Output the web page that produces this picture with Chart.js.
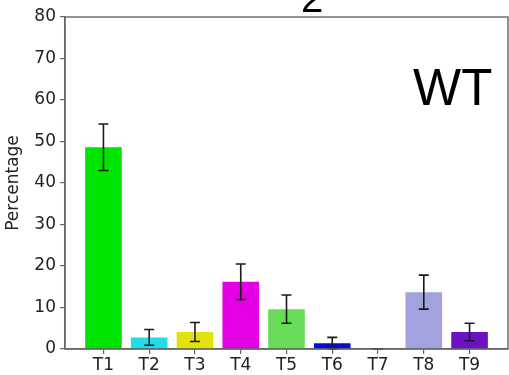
<!DOCTYPE html>
<html>
<head>
<meta charset="utf-8">
<script src="https://cdn.jsdelivr.net/npm/chart.js@4/dist/chart.umd.min.js"></script>
<style>
  html, body { margin: 0; padding: 0; background: #fff; }
  canvas { display: block; }
</style>
</head>
<body>
<canvas id="grafico" width="509" height="375"></canvas>
<script>
// dados
const categorias = ["T1", "T2", "T3", "T4", "T5", "T6", "T7", "T8", "T9"];
const valores    = [48.6, 2.8, 4.1, 16.2, 9.6, 1.4, 0, 13.7, 4.1];
const erros      = [5.6, 1.9, 2.3, 4.3, 3.4, 1.4, 0, 4.1, 2.1];
const cores      = ["#00e400", "#22dde6", "#e2e20c", "#e400e4", "#68dc58",
                    "#0a0ad8", "#888888", "#a2a2de", "#6a12c4"];
const ticksY     = [0, 10, 20, 30, 40, 50, 60, 70, 80];

const corEixo = "#666666";
const corTexto = "#222222";

// barras de erro + moldura + textos
const extras = {
  id: "extras",
  afterDatasetsDraw(chart) {
    const { ctx, scales: { x, y } } = chart;
    ctx.save();
    ctx.strokeStyle = "#1a1a1a";
    ctx.lineWidth = 1.6;
    valores.forEach((v, i) => {
      const px = x.getPixelForValue(i);
      const yTop = y.getPixelForValue(v + erros[i]);
      const yBot = y.getPixelForValue(v - erros[i]);
      ctx.beginPath();
      ctx.moveTo(px, yTop); ctx.lineTo(px, yBot);
      ctx.moveTo(px - 5, yTop); ctx.lineTo(px + 5, yTop);
      ctx.moveTo(px - 5, yBot); ctx.lineTo(px + 5, yBot);
      ctx.stroke();
    });
    ctx.restore();
  },
  afterDraw(chart) {
    const { ctx, chartArea: a } = chart;
    ctx.save();
    ctx.strokeStyle = corEixo;
    ctx.lineWidth = 1.4;
    ctx.strokeRect(a.left, a.top, a.right - a.left, a.bottom - a.top);

    ctx.fillStyle = "#000";
    ctx.textBaseline = "alphabetic";
    ctx.textAlign = "left";
    ctx.font = "51px 'Liberation Sans', Arial, sans-serif";
    ctx.fillText("WT", 413, 105);

    ctx.textAlign = "center";
    ctx.font = "40px 'Liberation Sans', Arial, sans-serif";
    ctx.fillText("2", 312, 12);
    ctx.restore();
  }
};

const dados = categorias.map((c, i) => ({ x: i, y: valores[i] }));

new Chart(document.getElementById("grafico"), {
  type: "bar",
  data: {
    datasets: [{
      data: dados,
      backgroundColor: cores,
      borderWidth: 0,
      barPercentage: 0.8,
      categoryPercentage: 1.0
    }]
  },
  options: {
    responsive: false,
    animation: false,
    devicePixelRatio: 1,
    layout: { padding: { top: 17, right: 1, left: 0, bottom: 0 } },
    plugins: {
      legend: { display: false },
      tooltip: { enabled: false }
    },
    scales: {
      x: {
        type: "linear",
        min: -0.84,
        max: 8.84,
        offset: false,
        afterBuildTicks: s => { s.ticks = categorias.map((c, i) => ({ value: i })); },
        afterFit: s => { s.height = 26; },
        ticks: {
          autoSkip: false,
          maxRotation: 0,
          padding: 1,
          color: corTexto,
          font: { family: "'DejaVu Sans'", size: 17 },
          callback: v => categorias[v]
        },
        grid: { display: true, offset: false, drawOnChartArea: false, tickLength: 5, color: corEixo, lineWidth: 1.2 },
        border: { display: true, color: corEixo, width: 1.4 }
      },
      y: {
        min: 0,
        max: 80,
        afterBuildTicks: s => { s.ticks = ticksY.map(v => ({ value: v })); },
        afterFit: s => { s.width = 65; },
        ticks: {
          padding: 4,
          color: corTexto,
          font: { family: "'DejaVu Sans'", size: 17 }
        },
        title: {
          display: true,
          text: "Percentage",
          color: corTexto,
          padding: { top: 3, bottom: 0 },
          font: { family: "'DejaVu Sans'", size: 17 }
        },
        grid: { display: true, drawOnChartArea: false, tickLength: 5, color: corEixo, lineWidth: 1.2 },
        border: { display: true, color: corEixo, width: 1.4 }
      }
    }
  },
  plugins: [extras]
});
</script>
</body>
</html>
